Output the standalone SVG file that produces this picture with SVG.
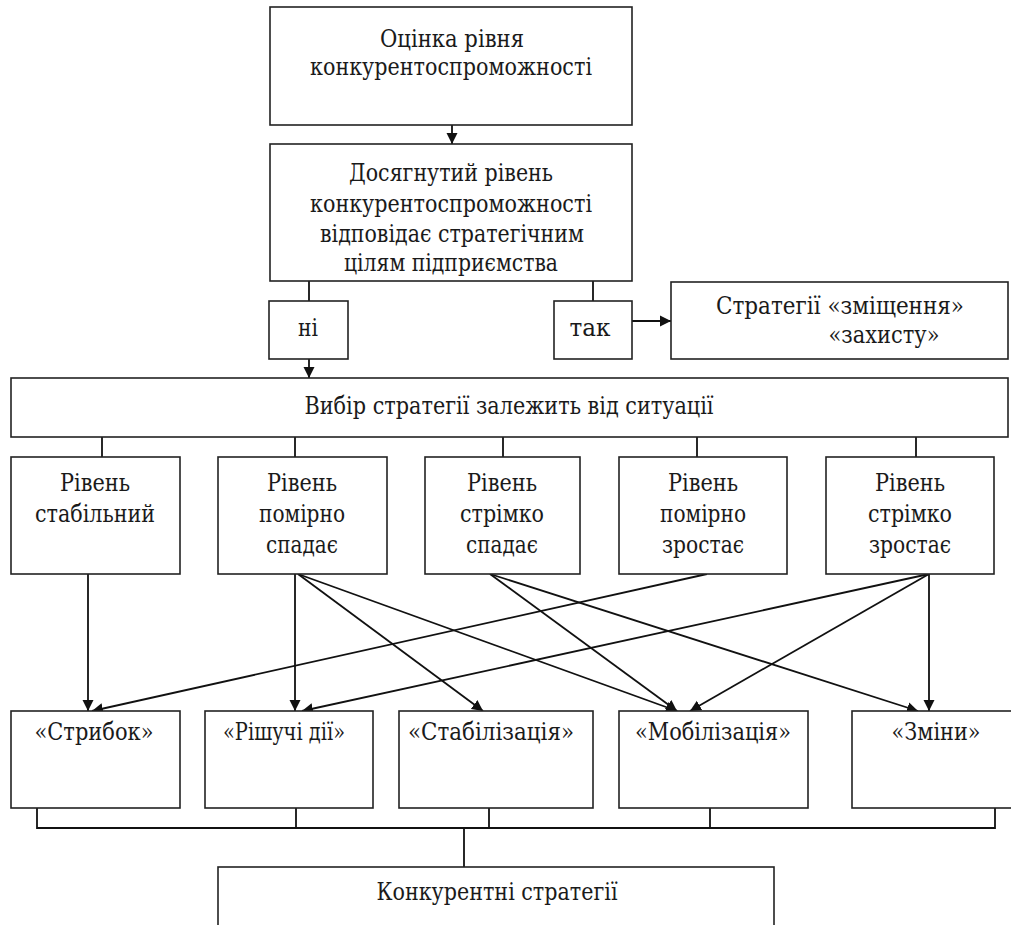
<svg xmlns="http://www.w3.org/2000/svg" width="1011" height="925" viewBox="0 0 1011 925">
<style>
.b{fill:#fff;stroke:#222;stroke-width:1.6}
.t{font-family:"DejaVu Serif","Liberation Serif",serif;font-size:25px;fill:#1a1a1a;text-anchor:middle}
.c{fill:none;stroke:#111;stroke-width:1.8}
.a{fill:none;stroke:#111;stroke-width:1.8;marker-end:url(#ah)}
</style>
<defs>
<marker id="ah" viewBox="0 0 10 10" refX="10" refY="5" markerWidth="11" markerHeight="12" markerUnits="userSpaceOnUse" orient="auto">
<path d="M0,0 L10,5 L0,10 z" fill="#111"/>
</marker>
</defs>
<rect width="1011" height="925" fill="#fff"/>
<g id="connectors">
<line class="a" x1="452" y1="125" x2="452" y2="144"/>
<line class="c" x1="309" y1="281" x2="309" y2="301"/>
<line class="c" x1="593" y1="281" x2="593" y2="301"/>
<line class="a" x1="632" y1="321" x2="671" y2="321"/>
<line class="a" x1="309" y1="359" x2="309" y2="378"/>
<line class="c" x1="102" y1="437" x2="102" y2="457"/>
<line class="c" x1="295" y1="437" x2="295" y2="457"/>
<line class="c" x1="503" y1="437" x2="503" y2="457"/>
<line class="c" x1="697" y1="437" x2="697" y2="457"/>
<line class="c" x1="916" y1="437" x2="916" y2="457"/>
<line class="a" x1="88" y1="574" x2="88" y2="711"/>
<line class="a" x1="295" y1="574" x2="295" y2="711"/>
<line class="a" x1="298" y1="574" x2="483" y2="711"/>
<line class="a" x1="298" y1="574" x2="677" y2="711"/>
<line class="a" x1="490" y1="574" x2="677" y2="711"/>
<line class="a" x1="490" y1="574" x2="918" y2="711"/>
<line class="a" x1="707" y1="574" x2="92" y2="711"/>
<line class="a" x1="929" y1="574" x2="302" y2="711"/>
<line class="a" x1="929" y1="574" x2="690" y2="711"/>
<line class="a" x1="929" y1="574" x2="929" y2="711"/>
<polyline class="c" points="37,808 37,828 995,828 995,808"/>
<line class="c" x1="296" y1="808" x2="296" y2="828"/>
<line class="c" x1="489" y1="808" x2="489" y2="828"/>
<line class="c" x1="710" y1="808" x2="710" y2="828"/>
<line class="c" x1="464" y1="828" x2="464" y2="867"/>
</g>
<g id="n-ocinka">
<rect class="b" x="270" y="7" width="362" height="118"/>
<text class="t" x="452" y="47" textLength="144" lengthAdjust="spacingAndGlyphs">Оцінка рівня</text>
<text class="t" x="451" y="75" textLength="282" lengthAdjust="spacingAndGlyphs">конкурентоспроможності</text>
</g>
<g id="n-dosyagnutyi">
<rect class="b" x="270" y="144" width="362" height="137"/>
<text class="t" x="451" y="181" textLength="204" lengthAdjust="spacingAndGlyphs">Досягнутий рівень</text>
<text class="t" x="451" y="212" textLength="282" lengthAdjust="spacingAndGlyphs">конкурентоспроможності</text>
<text class="t" x="452" y="242" textLength="264" lengthAdjust="spacingAndGlyphs">відповідає стратегічним</text>
<text class="t" x="451" y="271" textLength="214" lengthAdjust="spacingAndGlyphs">цілям підприємства</text>
</g>
<g id="n-ni">
<rect class="b" x="269" y="301" width="79" height="58"/>
<text class="t" x="308" y="336" textLength="20" lengthAdjust="spacingAndGlyphs">ні</text>
</g>
<g id="n-tak">
<rect class="b" x="554" y="301" width="78" height="58"/>
<text class="t" x="590" y="336" textLength="41" lengthAdjust="spacingAndGlyphs">так</text>
</g>
<g id="n-zmitsnennya">
<rect class="b" x="671" y="282" width="337" height="77"/>
<text class="t" x="840" y="314" textLength="248" lengthAdjust="spacingAndGlyphs">Стратегії «зміщення»</text>
<text class="t" x="884" y="343" textLength="111" lengthAdjust="spacingAndGlyphs">«захисту»</text>
</g>
<g id="n-vybir">
<rect class="b" x="11" y="378" width="997" height="59"/>
<text class="t" x="509" y="414" textLength="409" lengthAdjust="spacingAndGlyphs">Вибір стратегії залежить від ситуації</text>
</g>
<g id="n-stabilnyi">
<rect class="b" x="11" y="457" width="169" height="117"/>
<text class="t" x="95" y="491" textLength="70" lengthAdjust="spacingAndGlyphs">Рівень</text>
<text class="t" x="95" y="522" textLength="120" lengthAdjust="spacingAndGlyphs">стабільний</text>
</g>
<g id="n-pomirno-spadae">
<rect class="b" x="218" y="457" width="169" height="117"/>
<text class="t" x="302" y="491" textLength="70" lengthAdjust="spacingAndGlyphs">Рівень</text>
<text class="t" x="302" y="522" textLength="86" lengthAdjust="spacingAndGlyphs">помірно</text>
<text class="t" x="302" y="553" textLength="72" lengthAdjust="spacingAndGlyphs">спадає</text>
</g>
<g id="n-strimko-spadae">
<rect class="b" x="425" y="457" width="155" height="117"/>
<text class="t" x="502" y="491" textLength="70" lengthAdjust="spacingAndGlyphs">Рівень</text>
<text class="t" x="502" y="522" textLength="84" lengthAdjust="spacingAndGlyphs">стрімко</text>
<text class="t" x="502" y="553" textLength="72" lengthAdjust="spacingAndGlyphs">спадає</text>
</g>
<g id="n-pomirno-zrostae">
<rect class="b" x="619" y="457" width="168" height="117"/>
<text class="t" x="703" y="491" textLength="70" lengthAdjust="spacingAndGlyphs">Рівень</text>
<text class="t" x="703" y="522" textLength="86" lengthAdjust="spacingAndGlyphs">помірно</text>
<text class="t" x="703" y="553" textLength="82" lengthAdjust="spacingAndGlyphs">зростає</text>
</g>
<g id="n-strimko-zrostae">
<rect class="b" x="826" y="457" width="168" height="117"/>
<text class="t" x="910" y="491" textLength="70" lengthAdjust="spacingAndGlyphs">Рівень</text>
<text class="t" x="910" y="522" textLength="84" lengthAdjust="spacingAndGlyphs">стрімко</text>
<text class="t" x="910" y="553" textLength="82" lengthAdjust="spacingAndGlyphs">зростає</text>
</g>
<g id="n-strybok">
<rect class="b" x="11" y="711" width="169" height="97"/>
<text class="t" x="94" y="740" textLength="119" lengthAdjust="spacingAndGlyphs">«Стрибок»</text>
</g>
<g id="n-rishuchi">
<rect class="b" x="205" y="711" width="168" height="97"/>
<text class="t" x="284" y="740" textLength="122" lengthAdjust="spacingAndGlyphs">«Рішучі дії»</text>
</g>
<g id="n-stabilizatsiya">
<rect class="b" x="399" y="711" width="194" height="97"/>
<text class="t" x="491" y="740" textLength="166" lengthAdjust="spacingAndGlyphs">«Стабілізація»</text>
</g>
<g id="n-mobilizatsiya">
<rect class="b" x="619" y="711" width="189" height="97"/>
<text class="t" x="713" y="740" textLength="156" lengthAdjust="spacingAndGlyphs">«Мобілізація»</text>
</g>
<g id="n-zminy">
<rect class="b" x="852" y="711" width="175" height="97"/>
<text class="t" x="936" y="740" textLength="89" lengthAdjust="spacingAndGlyphs">«Зміни»</text>
</g>
<g id="n-konkurentni">
<rect class="b" x="218" y="867" width="556" height="70"/>
<text class="t" x="497" y="900" textLength="241" lengthAdjust="spacingAndGlyphs">Конкурентні стратегії</text>
</g>
</svg>
